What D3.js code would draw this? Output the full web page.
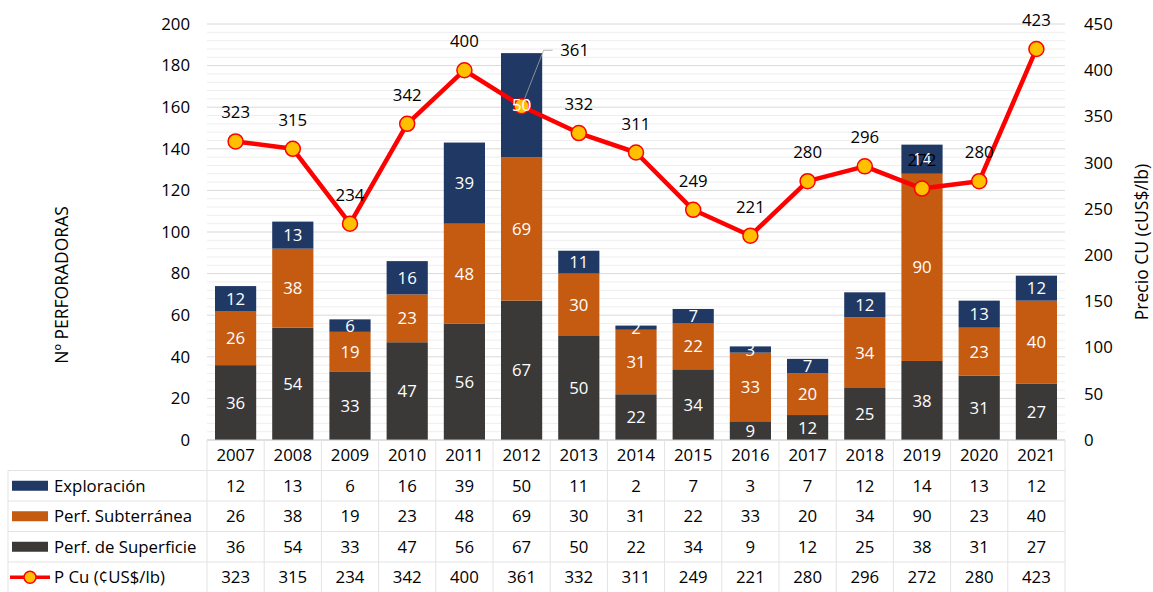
<!DOCTYPE html>
<html>
<head>
<meta charset="utf-8">
<script src="https://cdn.jsdelivr.net/npm/d3@7"></script>
<style>
  body { margin: 0; background: #fff; }
  svg text { font-family: "Open Sans", Lato, sans-serif; }
</style>
</head>
<body>
<div id="chart"></div>
<script>
// Perforadoras por tipo y precio del cobre

const years = ['2007','2008','2009','2010','2011','2012','2013','2014','2015','2016','2017','2018','2019','2020','2021'];
const exploracion = [12, 13, 6, 16, 39, 50, 11, 2, 7, 3, 7, 12, 14, 13, 12];
const subterranea = [26, 38, 19, 23, 48, 69, 30, 31, 22, 33, 20, 34, 90, 23, 40];
const superficie = [36, 54, 33, 47, 56, 67, 50, 22, 34, 9, 12, 25, 38, 31, 27];
const precioCu = [323, 315, 234, 342, 400, 361, 332, 311, 249, 221, 280, 296, 272, 280, 423];
const leftTicks = [0, 20, 40, 60, 80, 100, 120, 140, 160, 180, 200];
const rightTicks = [0, 50, 100, 150, 200, 250, 300, 350, 400, 450];

const W = 1153, H = 592;
const plot = { left: 207, right: 1065, top: 24, bottom: 440 };
const rowH = 30.5;
const fs = '16.8px';

const colors = {
    sup: '#3b3838',
    sub: '#c55a11',
    exp: '#1f3864',
    line: '#ff0000',
    marker: '#ffc000',
    grid: '#d9d9d9',
    minor: '#eeeeee'
};

const svg = d3.select('#chart').append('svg')
    .attr('width', W)
    .attr('height', H);

// Scales
const x = d3.scaleBand()
    .domain(years)
    .range([plot.left, plot.right])
    .paddingInner(0.28)
    .paddingOuter(0.14);

const col = d3.scaleBand()
    .domain(years)
    .range([plot.left, plot.right]);

const yL = d3.scaleLinear().domain([0, 200]).range([plot.bottom, plot.top]);
const yR = d3.scaleLinear().domain([0, 450]).range([plot.bottom, plot.top]);

// Gridlines (minor every 4, major every 20)
svg.append('g')
    .selectAll('line')
    .data(d3.range(0, 201, 4).filter(v => v % 20 !== 0))
    .join('line')
    .attr('x1', plot.left).attr('x2', plot.right)
    .attr('y1', d => yL(d)).attr('y2', d => yL(d))
    .attr('stroke', colors.minor)
    .attr('stroke-width', 1);

svg.append('g')
    .selectAll('line')
    .data(leftTicks.filter(v => v > 0))
    .join('line')
    .attr('x1', plot.left).attr('x2', plot.right)
    .attr('y1', d => yL(d)).attr('y2', d => yL(d))
    .attr('stroke', colors.grid)
    .attr('stroke-width', 1);

// Left axis
const leftAxis = svg.append('g')
    .attr('transform', `translate(${plot.left - 14},0)`)
    .call(d3.axisLeft(yL).tickValues(leftTicks).tickSize(0).tickPadding(3));
leftAxis.select('.domain').remove();
leftAxis.selectAll('text')
    .style('font-size', fs)
    .attr('fill', '#000');

// Right axis
const rightAxis = svg.append('g')
    .attr('transform', `translate(${plot.right + 19},0)`)
    .call(d3.axisRight(yR).tickValues(rightTicks).tickSize(0).tickPadding(0));
rightAxis.select('.domain').remove();
rightAxis.selectAll('text')
    .style('font-size', fs)
    .attr('fill', '#000');

// Axis titles
svg.append('text')
    .attr('transform', `translate(68,285) rotate(-90)`)
    .attr('text-anchor', 'middle')
    .style('font-size', '17.5px')
    .text('Nº PERFORADORAS');

svg.append('text')
    .attr('transform', `translate(1148,242) rotate(-90)`)
    .attr('text-anchor', 'middle')
    .style('font-size', '17.5px')
    .text('Precio CU (cUS$/lb)');

// Stacked bars
const rows = years.map((yr, i) => ({ year: yr, sup: superficie[i], sub: subterranea[i], exp: exploracion[i] }));
const stack = d3.stack().keys(['sup', 'sub', 'exp'])(rows);

const layers = svg.append('g')
    .selectAll('g')
    .data(stack)
    .join('g')
    .attr('fill', d => colors[d.key]);

layers.selectAll('rect')
    .data(d => d)
    .join('rect')
    .attr('x', d => x(d.data.year))
    .attr('width', x.bandwidth())
    .attr('y', d => yL(d[1]))
    .attr('height', d => yL(d[0]) - yL(d[1]));

layers.selectAll('text')
    .data(d => d.map(v => Object.assign({ key: d.key }, v)))
    .join('text')
    .attr('x', d => x(d.data.year) + x.bandwidth() / 2)
    .attr('y', d => (yL(d[0]) + yL(d[1])) / 2)
    .attr('dy', '0.36em')
    .attr('text-anchor', 'middle')
    .attr('fill', '#fff')
    .style('font-size', fs)
    .text(d => d.data[d.key]);

// Axis baseline
svg.append('line')
    .attr('x1', plot.left).attr('x2', plot.right)
    .attr('y1', plot.bottom).attr('y2', plot.bottom)
    .attr('stroke', '#bfbfbf');

// Price line
const cx = yr => x(yr) + x.bandwidth() / 2;
const line = d3.line()
    .x((d, i) => cx(years[i]))
    .y(d => yR(d));

svg.append('path')
    .datum(precioCu)
    .attr('d', line)
    .attr('fill', 'none')
    .attr('stroke', colors.line)
    .attr('stroke-width', 4.5)
    .attr('stroke-linejoin', 'round');

// Leader line for 2012 label
const i2012 = years.indexOf('2012');
svg.append('polyline')
    .attr('points', [
        [cx('2012'), yR(precioCu[i2012])],
        [cx('2012') + 22, yR(precioCu[i2012]) - 56],
        [cx('2012') + 31, yR(precioCu[i2012]) - 56]
    ].map(p => p.join(',')).join(' '))
    .attr('fill', 'none')
    .attr('stroke', '#a6a6a6')
    .attr('stroke-width', 0.8);

svg.append('g')
    .selectAll('circle')
    .data(precioCu)
    .join('circle')
    .attr('cx', (d, i) => cx(years[i]))
    .attr('cy', d => yR(d))
    .attr('r', 7.5)
    .attr('fill', colors.marker)
    .attr('stroke', colors.line)
    .attr('stroke-width', 1.5);

// Redraw the 2012 bar label on top of the marker
svg.append('text')
    .attr('x', cx('2012'))
    .attr('y', (yL(superficie[i2012] + subterranea[i2012]) + yL(superficie[i2012] + subterranea[i2012] + exploracion[i2012])) / 2)
    .attr('dy', '0.36em')
    .attr('text-anchor', 'middle')
    .attr('fill', '#fff')
    .style('font-size', fs)
    .text(exploracion[i2012]);

svg.append('g')
    .selectAll('text')
    .data(precioCu)
    .join('text')
    .attr('x', (d, i) => years[i] === '2012' ? cx(years[i]) + 53 : cx(years[i]))
    .attr('y', (d, i) => years[i] === '2012' ? yR(d) - 56 : yR(d) - 29)
    .attr('dy', '0.36em')
    .attr('text-anchor', 'middle')
    .attr('fill', '#000')
    .style('font-size', fs)
    .text(d => d);

// Data table
const tableTop = plot.bottom;
const tableLeft = 8;
const grid = svg.append('g')
    .attr('stroke', '#e3e3e3')
    .attr('stroke-width', 1);

// vertical lines between columns
grid.selectAll('line.v')
    .data(years.concat(['end']))
    .join('line')
    .attr('class', 'v')
    .attr('x1', d => d === 'end' ? plot.right : col(d))
    .attr('x2', d => d === 'end' ? plot.right : col(d))
    .attr('y1', tableTop)
    .attr('y2', H);

// horizontal lines
grid.selectAll('line.h')
    .data(d3.range(1, 6))
    .join('line')
    .attr('class', 'h')
    .attr('x1', tableLeft)
    .attr('x2', plot.right)
    .attr('y1', d => tableTop + d * rowH)
    .attr('y2', d => tableTop + d * rowH);

grid.append('line')
    .attr('x1', tableLeft).attr('x2', tableLeft)
    .attr('y1', tableTop + rowH).attr('y2', H);

// header years
svg.append('g')
    .selectAll('text')
    .data(years)
    .join('text')
    .attr('x', d => col(d) + col.bandwidth() / 2)
    .attr('y', tableTop + rowH / 2)
    .attr('dy', '0.36em')
    .attr('text-anchor', 'middle')
    .style('font-size', fs)
    .text(d => d);

const tableRows = [
    { name: 'Exploración', values: exploracion, type: 'bar', color: colors.exp },
    { name: 'Perf. Subterránea', values: subterranea, type: 'bar', color: colors.sub },
    { name: 'Perf. de Superficie', values: superficie, type: 'bar', color: colors.sup },
    { name: 'P Cu (¢US$/lb)', values: precioCu, type: 'line', color: colors.line }
];

tableRows.forEach((r, ri) => {
    const cy = tableTop + (ri + 1) * rowH + rowH / 2;
    const g = svg.append('g');
    if (r.type === 'bar') {
        g.append('rect')
            .attr('x', 12).attr('y', cy - 5)
            .attr('width', 36).attr('height', 10)
            .attr('fill', r.color);
    } else {
        g.append('line')
            .attr('x1', 10).attr('x2', 50)
            .attr('y1', cy).attr('y2', cy)
            .attr('stroke', colors.line)
            .attr('stroke-width', 3.5);
        g.append('circle')
            .attr('cx', 30).attr('cy', cy).attr('r', 6)
            .attr('fill', colors.marker)
            .attr('stroke', colors.line)
            .attr('stroke-width', 1.5);
    }
    g.append('text')
        .attr('x', 54).attr('y', cy)
        .attr('dy', '0.36em')
        .style('font-size', fs)
        .text(r.name);
    g.selectAll('text.v')
        .data(r.values)
        .join('text')
        .attr('class', 'v')
        .attr('x', (d, i) => col(years[i]) + col.bandwidth() / 2)
        .attr('y', cy)
        .attr('dy', '0.36em')
        .attr('text-anchor', 'middle')
        .style('font-size', fs)
        .text(d => d);
});
</script>
</body>
</html>
